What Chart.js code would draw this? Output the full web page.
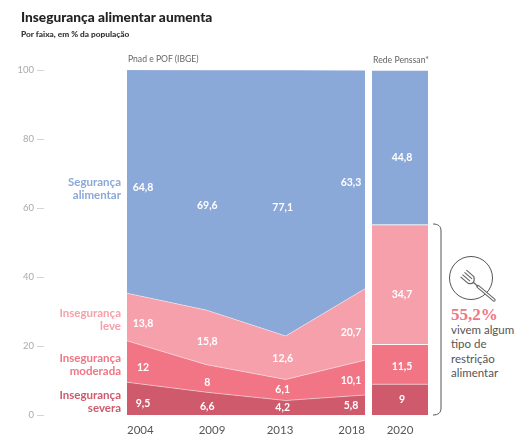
<!DOCTYPE html>
<html lang="pt-BR"><head><meta charset="utf-8">
<script src="https://cdn.jsdelivr.net/npm/chart.js@4"></script>
<style>
html,body{margin:0;padding:0;background:#fff;width:530px;height:445px;overflow:hidden;font-family:Lato,sans-serif}
canvas{position:absolute;top:0}
.t{position:absolute;white-space:nowrap}
.r{text-align:right;font-weight:700;font-size:11.5px;line-height:13px;right:409px}
</style></head><body>
<div style="position:absolute;left:0;top:0;width:370px;height:445px"><canvas id="main"></canvas></div>
<div style="position:absolute;left:372px;top:0;width:56px;height:445px"><canvas id="side"></canvas></div>
<div class="t" style="left:21px;top:8px;font-size:13.7px;font-weight:900;color:#222">Insegurança alimentar aumenta</div>
<div class="t" style="left:21px;top:29px;font-size:8.3px;font-weight:900;color:#333">Por faixa, em % da população</div>
<div class="t" style="left:128px;top:54px;font-size:8.6px;color:#666">Pnad e POF (IBGE)</div>
<div class="t" style="left:373px;top:54px;font-size:8.7px;color:#666">Rede Penssan*</div>
<div class="t r" style="top:175px;color:#8aa8d8">Segurança<br>alimentar</div>
<div class="t r" style="top:306px;color:#f5a0aa">Insegurança<br>leve</div>
<div class="t r" style="top:351px;color:#f27585">Insegurança<br>moderada</div>
<div class="t r" style="top:388px;color:#cf5a6c">Insegurança<br>severa</div>
<svg style="position:absolute;left:428px;top:215px" width="102" height="210" viewBox="428 215 102 210" fill="none">
<path d="M433 224 C438 224 441 226 441 231 L441 408 C441 413 438 415 433 415" stroke="#555" stroke-width="1"/>
<circle cx="471" cy="278" r="21.5" stroke="#555" stroke-width="1"/>
<path d="M478 286.5 L494 300" stroke="#666" stroke-width="3.4" stroke-linecap="round"/>
<path d="M478 286.5 L494 300" stroke="#fff" stroke-width="1.2" stroke-linecap="round"/>
<path d="M468.1 283.4 L460.6 276.9 M470 281.1 L462.5 274.6 M472 278.9 L464.5 272.4 M473.9 276.6 L466.4 270.1 M468.1 283.4 Q475.5 285 473.9 276.6 M473.5 282.5 L478 286.5" stroke="#666" stroke-width="1.2"/>
</svg>
<div class="t" style="left:451px;top:305px;font-family:'Liberation Serif',serif;font-weight:700;font-size:17px;color:#f27585">55,2%</div>
<div class="t" style="left:451px;top:323px;font-size:11.5px;line-height:14.4px;color:#555">vivem algum<br>tipo de<br>restrição<br>alimentar</div>
<script>
const periods = ['2004', '2009', '2013', '2018'];
const severe = [9.5, 6.6, 4.2, 5.8];
const moderate = [12, 8, 6.1, 10.1];
const mild = [13.8, 15.8, 12.6, 20.7];
const secure = [64.8, 69.6, 77.1, 63.3];
const sideCategory = ['2020'];
const sideSevere = [9];
const sideModerate = [11.5];
const sideMild = [34.7];
const sideSecure = [44.8];
const yearTicks = [2004, 2009, 2013, 2018];
const yTicks = [0, 20, 40, 60, 80, 100];

const BLUE = '#8aa8d8', MILD = '#f5a0aa', MOD = '#f27585', SEV = '#cf5a6c';
const EDGE = 'rgba(255,255,255,0.45)';
const LABEL_FONT = '700 10.5px Lato, sans-serif';

/* value labels: centred in each band, with small per-label nudges in px */
const valueLabels = {
  id: 'valueLabels',
  afterDatasetsDraw(chart, args, opts) {
    const c = chart.ctx, y = chart.scales.y;
    c.save();
    c.font = LABEL_FONT; c.fillStyle = '#fff'; c.textAlign = 'center'; c.textBaseline = 'middle';
    chart.data.datasets.forEach((ds, d) => {
      ds.data.forEach((v, i) => {
        let base = 0;
        for (let k = 0; k < d; k++) base += chart.data.datasets[k].data[i];
        const px = chart.getDatasetMeta(d).data[i].x + opts.dx[i];
        const py = y.getPixelForValue(base + v / 2) + opts.dy[d][i];
        c.fillText(String(v).replace('.', ','), px, py);
      });
    });
    c.restore();
  }
};
/* short tick marks beside the labels of the value axis */
const yMarks = {
  id: 'yMarks',
  afterDraw(chart) {
    const c = chart.ctx, y = chart.scales.y;
    c.save(); c.strokeStyle = '#d4d4d4'; c.lineWidth = 1;
    y.ticks.forEach(t => {
      const p = Math.round(y.getPixelForValue(t.value)) + 0.5;
      c.beginPath(); c.moveTo(37, p); c.lineTo(44, p); c.stroke();
    });
    c.restore();
  }
};
const area = (label, data, color, fill) => ({label, data, fill, backgroundColor: color, borderColor: EDGE, borderWidth: 1, pointRadius: 0, tension: 0});

new Chart(document.getElementById('main'), {
  type: 'line',
  data: {labels: periods, datasets: [
    area('Insegurança severa', severe, SEV, 'origin'),
    area('Insegurança moderada', moderate, MOD, '-1'),
    area('Insegurança leve', mild, MILD, '-1'),
    area('Segurança alimentar', secure, BLUE, '-1')
  ]},
  options: {
    responsive: true, maintainAspectRatio: false, animation: false,
    layout: {padding: {top: 70, right: 5, left: 0, bottom: 0}},
    plugins: {legend: {display: false}, tooltip: {enabled: false},
      valueLabels: {dx: [16, 1, -3, -14], dy: [[5, 3, 0, 1], [6, 4, 0, 3], [7, 4, 1, 8], [6, 16, 5, 3]]}},
    scales: {
      x: {type: 'category', display: false, offset: false},
      xYear: {type: 'linear', axis: 'x', position: 'bottom', min: 2004, max: 2018,
        afterBuildTicks: s => { s.ticks = yearTicks.map(value => ({value})); },
        afterFit: s => { s.height = 30; s.paddingLeft = 0; s.paddingRight = 0; },
        grid: {display: false, drawTicks: false}, border: {display: false},
        ticks: {align: 'inner', autoSkip: false, maxRotation: 0, padding: 8, color: '#555',
          font: {family: 'Lato, sans-serif', size: 11.5}, callback: v => String(v)}},
      y: {stacked: true, min: 0, max: 100,
        afterBuildTicks: s => { s.ticks = yTicks.map(value => ({value})); },
        afterFit: s => { s.width = 127; s.paddingTop = 0; s.paddingBottom = 0; },
        grid: {display: false, drawTicks: false}, border: {display: false},
        ticks: {padding: 93, color: '#aaa', font: {family: 'Lato, sans-serif', size: 9.5}}}
    }
  },
  plugins: [valueLabels, yMarks]
});

const bar = (label, data, color) => ({label, data, backgroundColor: color, borderColor: EDGE, borderWidth: {top: 1}, borderSkipped: false, barPercentage: 1, categoryPercentage: 1});
new Chart(document.getElementById('side'), {
  type: 'bar',
  data: {labels: sideCategory, datasets: [
    bar('Insegurança severa', sideSevere, SEV),
    bar('Insegurança moderada', sideModerate, MOD),
    bar('Insegurança leve', sideMild, MILD),
    bar('Segurança alimentar', sideSecure, BLUE)
  ]},
  options: {
    responsive: true, maintainAspectRatio: false, animation: false,
    layout: {padding: {top: 70, right: 0, left: 0, bottom: 0}},
    plugins: {legend: {display: false}, tooltip: {enabled: false},
      valueLabels: {dx: [2], dy: [[0], [2], [10], [10]]}},
    scales: {
      x: {stacked: true, afterFit: s => { s.height = 30; },
        grid: {display: false, drawTicks: false}, border: {display: false},
        ticks: {padding: 8, color: '#555', font: {family: 'Lato, sans-serif', size: 11.5}}},
      y: {stacked: true, display: false, min: 0, max: 100}
    }
  },
  plugins: [valueLabels]
});
</script>
</body></html>
